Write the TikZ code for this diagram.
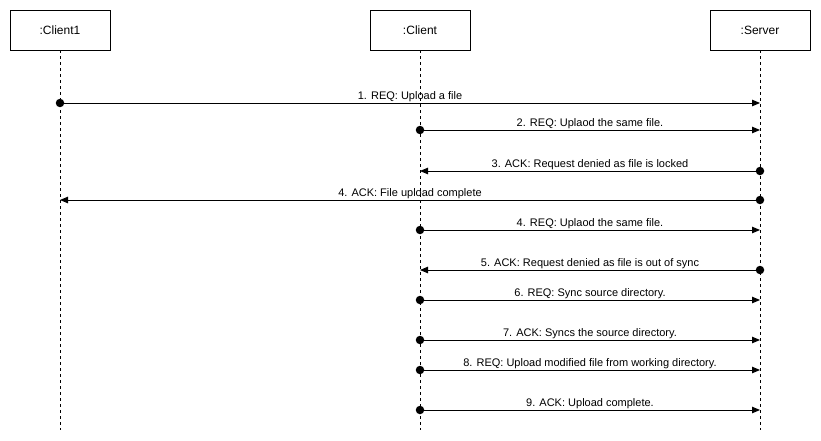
\documentclass[tikz,border=0pt]{standalone}
\usepackage{fontspec}
\setmainfont{Liberation Sans}
\usetikzlibrary{arrows.meta}
\begin{document}
\begin{tikzpicture}[x=1pt,y=-1pt,
  actorbox/.style={draw, line width=0.8pt, minimum width=100pt, minimum height=40pt, inner sep=0pt, font=\fontsize{12}{14}\selectfont},
  lifeline/.style={line width=0.8pt, dash pattern=on 3pt off 3pt},
  msg/.style={line width=0.9pt, -{Triangle[length=8pt,width=6.5pt]}},
  lbl/.style={above=1pt, inner sep=0pt, font=\fontsize{11}{13}\selectfont},
  dotmark/.style={circle, fill, inner sep=0pt, minimum size=8.5pt}
]
\useasboundingbox (0,0) rectangle (821,441);
% actors
\node[actorbox] (c1) at (60,30) {:Client1};
\node[actorbox] (cl) at (420,30) {:Client};
\node[actorbox] (sv) at (760,30) {:Server};
\coordinate (c1end) at (60,430);
\coordinate (clend) at (420,430);
\coordinate (svend) at (760,430);
\draw[lifeline] (c1.south) -- (c1end);
\draw[lifeline] (cl.south) -- (clend);
\draw[lifeline] (sv.south) -- (svend);
% message points
\coordinate (a1) at (60,103);  \coordinate (b1) at (760,103);
\coordinate (a2) at (420,130); \coordinate (b2) at (760,130);
\coordinate (a3) at (760,171); \coordinate (b3) at (420,171);
\coordinate (a4) at (760,200); \coordinate (b4) at (60,200);
\coordinate (a5) at (420,230); \coordinate (b5) at (760,230);
\coordinate (a6) at (760,270); \coordinate (b6) at (420,270);
\coordinate (a7) at (420,300); \coordinate (b7) at (760,300);
\coordinate (a8) at (420,340); \coordinate (b8) at (760,340);
\coordinate (a9) at (420,370); \coordinate (b9) at (760,370);
\coordinate (a10) at (420,410); \coordinate (b10) at (760,410);
% messages
\draw[msg] (a1) -- node[lbl]{1. REQ: Upload a file} (b1);
\draw[msg] (a2) -- node[lbl]{2. REQ: Uplaod the same file.} (b2);
\draw[msg] (a3) -- node[lbl]{3. ACK: Request denied as file is locked} (b3);
\draw[msg] (a4) -- node[lbl]{4. ACK: File upload complete} (b4);
\draw[msg] (a5) -- node[lbl]{4. REQ: Uplaod the same file.} (b5);
\draw[msg] (a6) -- node[lbl]{5. ACK: Request denied as file is out of sync} (b6);
\draw[msg] (a7) -- node[lbl]{6. REQ: Sync source directory.} (b7);
\draw[msg] (a8) -- node[lbl]{7. ACK: Syncs the source directory.} (b8);
\draw[msg] (a9) -- node[lbl]{8. REQ: Upload modified file from working directory.} (b9);
\draw[msg] (a10) -- node[lbl]{9. ACK: Upload complete.} (b10);
% start dots
\foreach \p in {a1,a2,a3,a4,a5,a6,a7,a8,a9,a10} \node[dotmark] at (\p) {};
\end{tikzpicture}
\end{document}
